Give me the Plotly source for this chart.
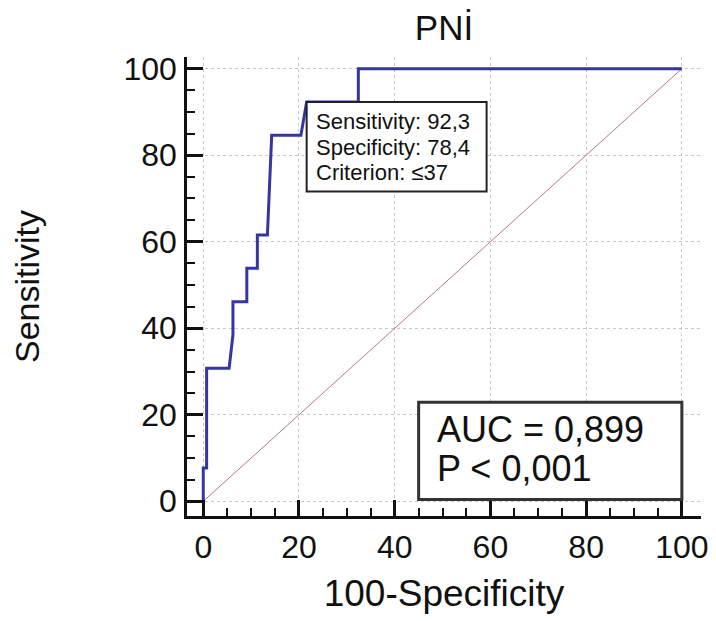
import plotly.graph_objects as go

# ROC curve points (100-Specificity, Sensitivity)
fpr = [0, 0, 0.7, 0.7, 5.4, 6.2, 6.2, 9.1, 9.1, 11.3, 11.3, 13.4, 14.3, 20.4, 21.6, 32.4, 32.4, 100]
tpr = [0, 7.69, 7.69, 30.77, 30.77, 38.46, 46.15, 46.15, 53.85, 53.85, 61.54, 61.54, 84.62, 84.62, 92.31, 92.31, 100, 100]
ref_x = [0, 100]
ref_y = [0, 100]
tick_vals = [0, 20, 40, 60, 80, 100]
tick_text = ["0", "20", "40", "60", "80", "100"]
cut_lines = ["Sensitivity: 92,3", "Specificity: 78,4", "Criterion: ≤37"]
auc_lines = ["AUC = 0,899", "P < 0,001"]
title = "PNİ"

FONT = "Liberation Sans, Arial, Helvetica, sans-serif"

W, H = 708, 613  # page body adds an 8px offset

fig = go.Figure()
fig.add_trace(go.Scatter(x=ref_x, y=ref_y, mode="lines",
                         line=dict(color="#b97a7a", width=1), hoverinfo="skip", showlegend=False))
fig.add_trace(go.Scatter(x=fpr, y=tpr, mode="lines",
                         line=dict(color="#3535a3", width=3), showlegend=False))

# criterion box
fig.add_shape(type="rect", xref="x", yref="y", x0=21.6, y0=71.6, x1=59.2, y1=92.31,
              line=dict(color="#222222", width=2), fillcolor="white", layer="above")
# AUC box
fig.add_shape(type="rect", xref="x", yref="y", x0=45, y0=0.4, x1=100, y1=22.9,
              line=dict(color="#333333", width=3), fillcolor="white", layer="above")

for txt, yy in zip(cut_lines, [87.8, 81.8, 76.0]):
    fig.add_annotation(x=23.2, y=yy, xref="x", yref="y", text=txt, showarrow=False,
                       xanchor="left", yanchor="middle",
                       font=dict(family=FONT, size=22, color="#111111"))
for txt, yy in zip(auc_lines, [16.5, 7.5]):
    fig.add_annotation(x=48.5, y=yy, xref="x", yref="y", text=txt, showarrow=False,
                       xanchor="left", yanchor="middle",
                       font=dict(family=FONT, size=36, color="#111111"))

axis_common = dict(
    showline=True, linecolor="#111111", linewidth=2.5, mirror=False,
    ticks="inside", ticklen=16, tickwidth=2.5, tickcolor="#111111",
    tickvals=tick_vals, ticktext=tick_text,
    showgrid=True, gridcolor="#c8c8c8", gridwidth=1, griddash="dot",
    zeroline=False,
    minor=dict(ticks="inside", ticklen=8, tickwidth=1.5, tickcolor="#111111",
               dtick=5, tick0=0, showgrid=False),
    tickfont=dict(family=FONT, size=32, color="#111111"),
)

fig.update_layout(
    width=W, height=H,
    margin=dict(l=179, r=8, t=49, b=105),
    plot_bgcolor="white", paper_bgcolor="white",
    title=dict(text=title, x=0.5, xref="paper", y=1 - 20 / H, yref="container",
               xanchor="center", yanchor="middle",
               font=dict(family=FONT, size=35, color="#111111")),
    xaxis=dict(range=[-3.4, 104], title=dict(text="100-Specificity", standoff=16,
               font=dict(family=FONT, size=37, color="#111111")),
               ticklabelstandoff=1, **axis_common),
    yaxis=dict(range=[-3.4, 102.7], title=dict(text="Sensitivity", standoff=79,
               font=dict(family=FONT, size=34, color="#111111")),
               ticklabelstandoff=1, **axis_common),
)

fig.write_html("out.html")
